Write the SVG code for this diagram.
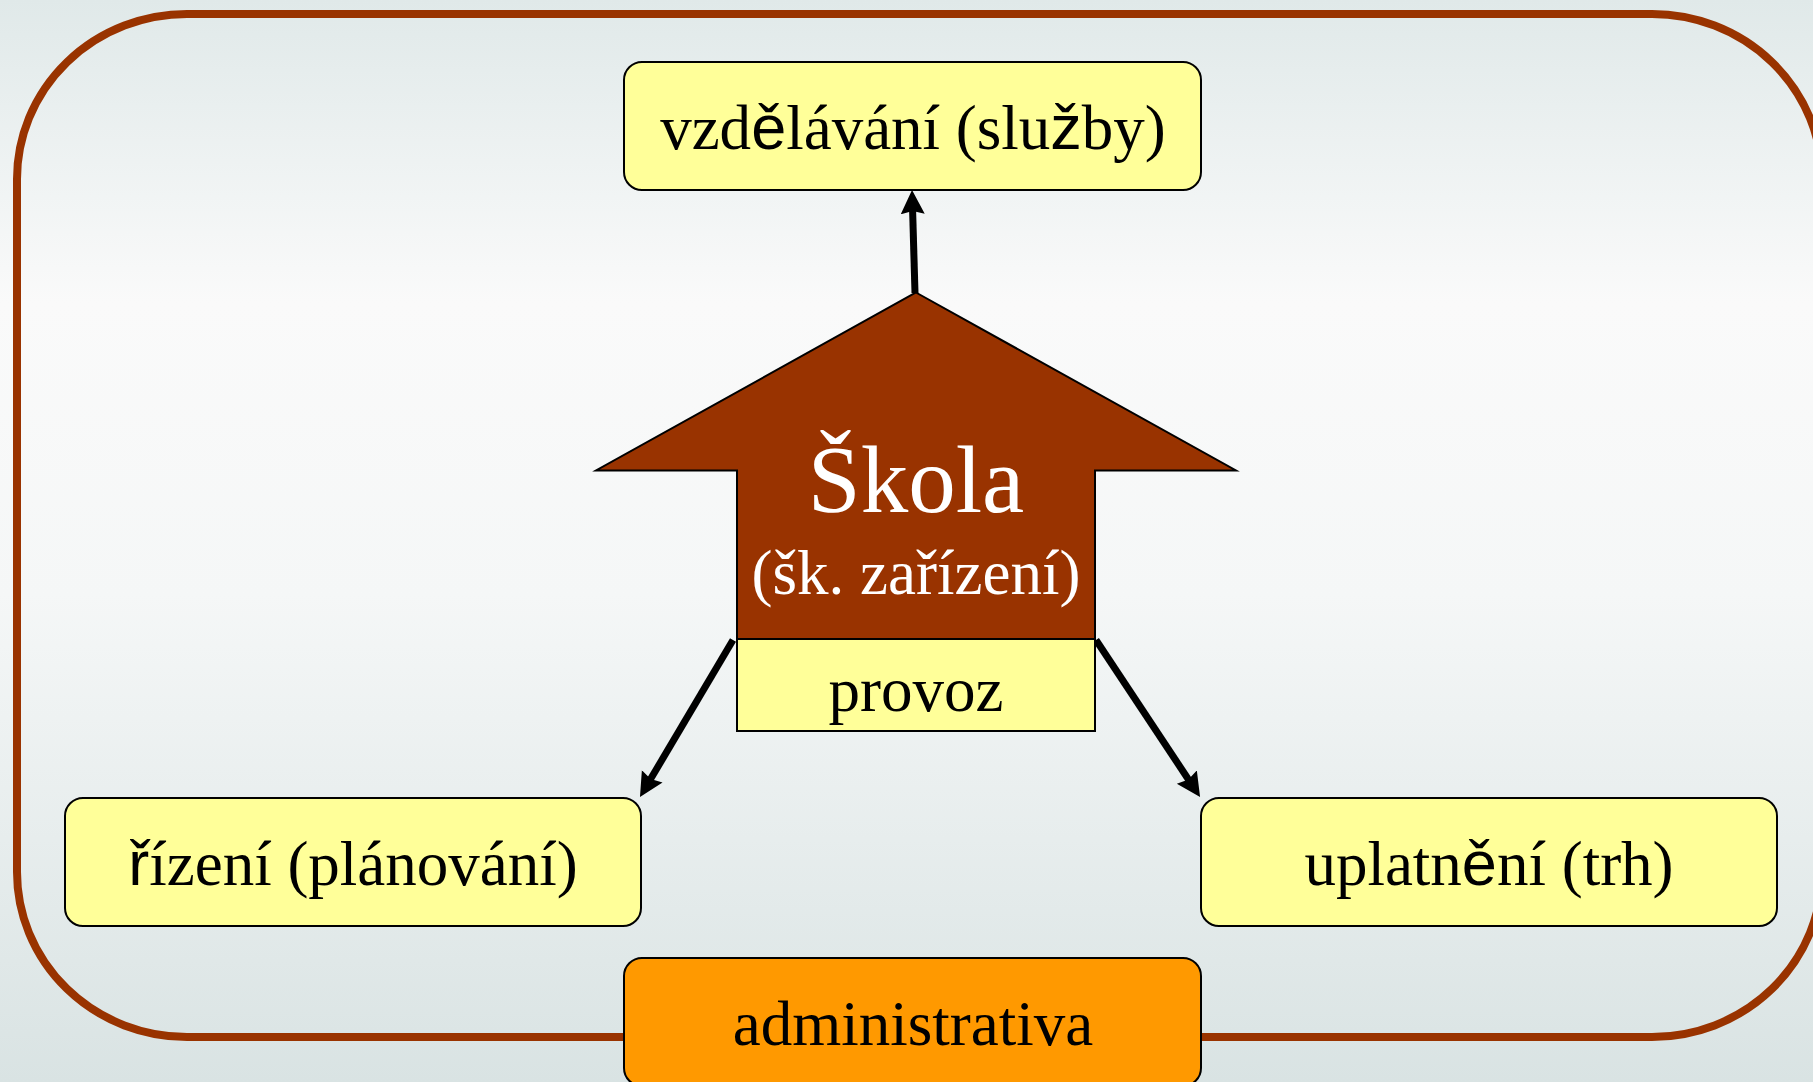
<svg xmlns="http://www.w3.org/2000/svg" width="1813" height="1082" viewBox="0 0 1813 1082">
  <defs>
    <linearGradient id="bg" x1="0" y1="0" x2="0" y2="1">
      <stop offset="0" stop-color="#e0e9e9"/>
      <stop offset="0.28" stop-color="#fafafa"/>
      <stop offset="0.55" stop-color="#f5f7f7"/>
      <stop offset="1" stop-color="#d9e3e3"/>
    </linearGradient>
    <marker id="ah" markerUnits="userSpaceOnUse" markerWidth="26" markerHeight="26" viewBox="0 0 26 26" refX="11" refY="12" orient="auto">
      <path d="M0,0 L24,12 L0,24 L3,12 z" fill="#000"/>
    </marker>
    <style>
      .box { fill: #ffff99; stroke: #000; stroke-width: 2; }
      .orange { fill: #ff9900; stroke: #000; stroke-width: 2; }
      .lbl { font-family: "Liberation Serif", "Times New Roman", serif; font-size: 63px; fill: #000; text-anchor: middle; }
      .sans { font-family: "Liberation Sans", Arial, sans-serif; }
      .white { fill: #fff; }
      .conn { stroke: #000; stroke-width: 7; fill: none; marker-end: url(#ah); }
    </style>
  </defs>

  <rect x="0" y="0" width="1813" height="1082" fill="url(#bg)"/>
  <rect id="frame" x="17" y="14" width="1805" height="1023" rx="170" ry="165" fill="none" stroke="#993300" stroke-width="8"/>

  <g id="connectors">
    <line class="conn" x1="915" y1="293" x2="912.4" y2="203"/>
    <line class="conn" x1="733" y1="640" x2="646.6" y2="785.8"/>
    <line class="conn" x1="1096" y1="640" x2="1192.9" y2="786.2"/>
  </g>

  <g id="skola">
    <polygon points="916,292.5 1236,470.5 1095,470.5 1095,639 737,639 737,470.5 596,470.5" fill="#993300" stroke="#000" stroke-width="2"/>
    <text class="lbl white" x="916" y="512" style="font-size:95px">Škola</text>
    <text class="lbl white" x="916" y="594">(šk. zařízení)</text>
  </g>

  <g id="provoz">
    <rect class="box" x="737" y="639" width="358" height="92"/>
    <text class="lbl" x="916" y="711">provoz</text>
  </g>

  <g id="vzdelavani">
    <rect class="box" x="624" y="62" width="577" height="128" rx="18" ry="18"/>
    <text class="lbl" x="913" y="149">vzd<tspan class="sans">ě</tspan>lávání (slu<tspan class="sans">ž</tspan>by)</text>
  </g>

  <g id="rizeni">
    <rect class="box" x="65" y="798" width="576" height="128" rx="18" ry="18"/>
    <text class="lbl" x="353" y="885"><tspan class="sans">ř</tspan>ízení (plánování)</text>
  </g>

  <g id="uplatneni">
    <rect class="box" x="1201" y="798" width="576" height="128" rx="18" ry="18"/>
    <text class="lbl" x="1489" y="885">uplatn<tspan class="sans">ě</tspan>ní (trh)</text>
  </g>

  <g id="administrativa">
    <rect class="orange" x="624" y="958" width="577" height="128" rx="18" ry="18"/>
    <text class="lbl" x="913" y="1045">administrativa</text>
  </g>
</svg>
